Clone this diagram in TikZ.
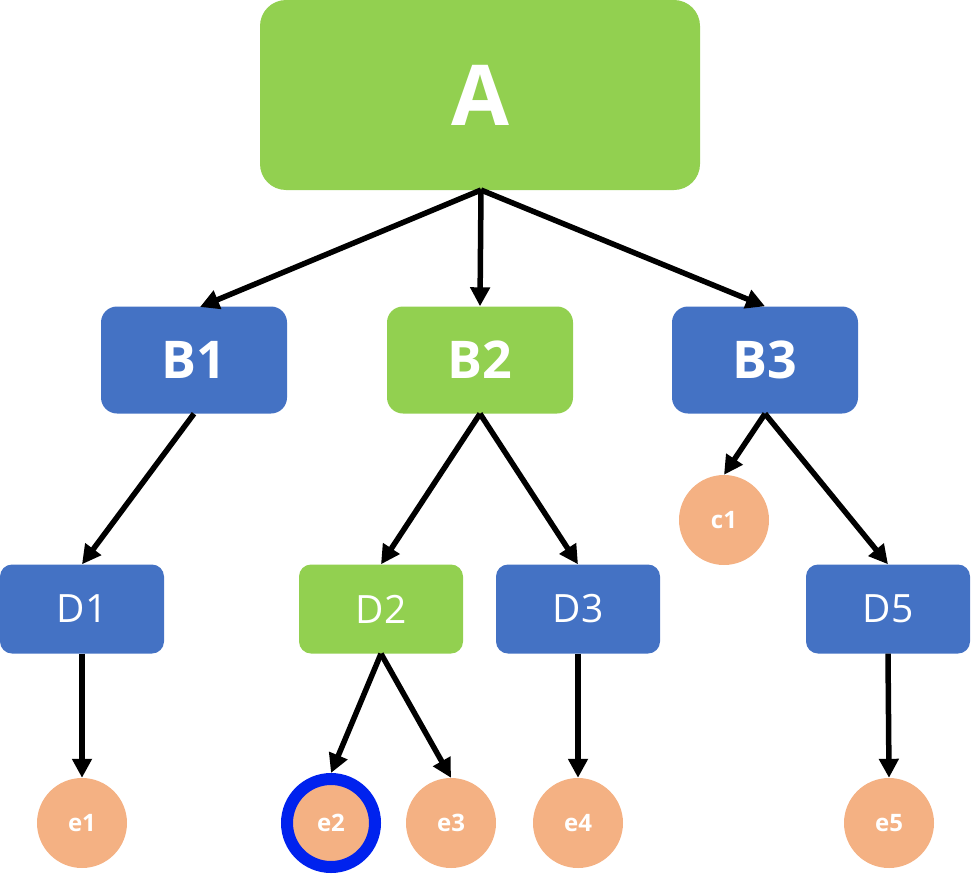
\documentclass[tikz,border=0pt]{standalone}
\usepackage{fontspec}
\setmainfont{Open Sans}
\usetikzlibrary{arrows.meta}
\definecolor{leaf}{HTML}{92D050}
\definecolor{sea}{HTML}{4472C4}
\definecolor{peach}{HTML}{F4B183}
\definecolor{ring}{HTML}{0022EE}
\begin{document}
\begin{tikzpicture}[x=1pt,y=-1pt,
  box/.style={rounded corners=#1, inner sep=0pt, text=white, align=center},
  bigbox/.style={box=16pt, minimum width=186pt, minimum height=107pt,
    font=\fontsize{52}{52}\selectfont\bfseries},
  smallbox/.style={box=12pt, minimum width=164pt, minimum height=89pt,
    font=\fontsize{39}{39}\selectfont},
  leafnode/.style={circle, fill=peach, minimum size=90pt, inner sep=0pt,
    text=white, font=\fontsize{24}{24}\selectfont\bfseries},
  link/.style={line width=5.5pt, -{Triangle[length=19pt,width=19pt]}}
]
\useasboundingbox (0,0) rectangle (971,875);

% top level
\node[box=26pt, fill=leaf, minimum width=440pt, minimum height=190pt,
      font=\fontsize{84}{84}\selectfont\bfseries] (A) at (480,95) {A};

% second level
\node[bigbox, fill=sea]  (B1) at (194,360) {B1};
\node[bigbox, fill=leaf] (B2) at (480,360) {B2};
\node[bigbox, fill=sea]  (B3) at (765,360) {B3};

% third level
\node[smallbox, fill=sea]  (D1) at (82,609)  {D1};
\node[smallbox, fill=leaf] (D2) at (381,609) {D2};
\node[smallbox, fill=sea]  (D3) at (578,609) {D3};
\node[smallbox, fill=sea]  (D5) at (888,609) {D5};
\node[leafnode] (c1) at (724,520) {c1};

% leaves
\node[leafnode] (e1) at (82,823)  {e1};
\node[leafnode, minimum size=88pt, draw=ring, line width=12pt] (e2) at (331,823) {e2};
\node[leafnode] (e3) at (451,823) {e3};
\node[leafnode] (e4) at (578,823) {e4};
\node[leafnode] (e5) at (889,823) {e5};

% connectors
\coordinate (Ab) at (481,190);
\coordinate (B1t) at (200,307);
\coordinate (e2t) at (331,773);
\draw[link] (Ab) -- (B1t);
\draw[link] (Ab) -- (B2.north);
\draw[link] (Ab) -- (B3.north);

\draw[link] (B1.south) -- (D1.north);
\draw[link] (B2.south) -- (D2.north);
\draw[link] (B2.south) -- (D3.north);
\draw[link] (B3.south) -- (c1.north);
\draw[link] (B3.south) -- (D5.north);

\draw[link] (D1.south) -- (e1.north);
\draw[link] (D2.south) -- (e2t);
\draw[link] (D2.south) -- (e3.north);
\draw[link] (D3.south) -- (e4.north);
\draw[link] (D5.south) -- (e5.north);
\end{tikzpicture}
\end{document}
